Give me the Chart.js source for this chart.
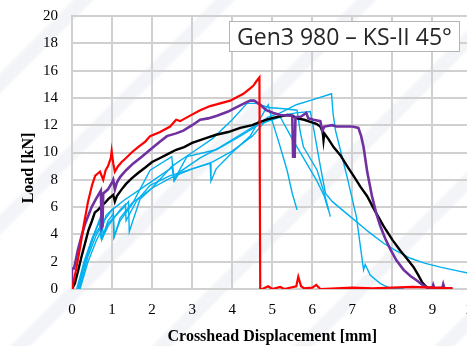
<!DOCTYPE html>
<html>
<head>
<meta charset="utf-8">
<script src="https://cdn.jsdelivr.net/npm/chart.js@4.4.1/dist/chart.umd.min.js"></script>
<style>
  html, body { margin: 0; padding: 0; overflow: hidden; background: #fff; width: 467px; height: 346px; }
  #wrap {
    position: relative; width: 467px; height: 346px; overflow: hidden;
    background: repeating-linear-gradient(135deg, rgba(255,255,255,0) 0px, rgba(255,255,255,0) 50px, #f2f4f7 54px, #f2f4f7 64px, rgba(255,255,255,0) 68px, rgba(255,255,255,0) 100px);
  }
  #loadChart { display: block; position: absolute; left: 0; top: 0; }
  #titleBox {
    position: absolute; left: 229px; top: 21px; width: 231px; height: 31px;
    border: 1.5px solid #b4b4b4; background: #fff; box-sizing: border-box;
    font-family: 'Open Sans', sans-serif; font-size: 23px; color: #262626;
    line-height: 28px; text-align: center; white-space: nowrap;
  }
</style>
</head>
<body>
<div id="wrap">
  <canvas id="loadChart" width="480" height="346"></canvas>
  <div id="titleBox">Gen3 980 – KS-II 45°</div>
</div>
<script>
// test curves (displacement in mm, load in kN)
const redX = [0, 0.1, 0.2, 0.3, 0.4, 0.5, 0.58, 0.66, 0.7, 0.78, 0.84, 0.9, 0.97, 0.99, 1.03, 1.07, 1.15, 1.24, 1.35, 1.49, 1.65, 1.83, 1.95, 2.2, 2.45, 2.6, 2.7, 2.95, 3.2, 3.45, 3.7, 3.95, 4.15, 4.28, 4.45, 4.53, 4.6, 4.68, 4.7, 4.75, 4.9, 5.0, 5.2, 5.3, 5.6, 5.65, 5.72, 5.8, 6.0, 6.1, 6.2, 6.6, 7.0, 7.5, 8.0, 8.5, 9.0, 9.5];
const redY = [0, 1.4, 3.0, 4.8, 6.4, 7.6, 8.3, 8.5, 8.6, 8.0, 8.7, 9.0, 9.6, 10.1, 9.2, 8.6, 9.0, 9.3, 9.6, 10.0, 10.4, 10.8, 11.2, 11.5, 11.9, 12.4, 12.3, 12.7, 13.1, 13.4, 13.6, 13.8, 14.1, 14.3, 14.7, 14.9, 15.2, 15.5, 0, 0, 0.2, 0, 0.15, 0, 0.2, 0.9, 0.2, 0.05, 0.1, 0.3, 0, 0.05, 0.1, 0.05, 0.1, 0.15, 0.1, 0.05];

const purpleX = [0, 0, 0.05, 0.15, 0.25, 0.33, 0.49, 0.6, 0.72, 0.74, 0.76, 0.78, 0.9, 1.0, 1.03, 1.07, 1.12, 1.2, 1.35, 1.53, 1.75, 1.95, 2.2, 2.37, 2.6, 2.78, 3.0, 3.2, 3.4, 3.62, 3.9, 4.1, 4.3, 4.45, 4.55, 4.7, 4.85, 5.03, 5.2, 5.5, 5.52, 5.56, 5.58, 5.7, 5.85, 5.9, 6.03, 6.2, 6.25, 6.3, 6.5, 6.6, 7.0, 7.15, 7.22, 7.28, 7.37, 7.49, 7.6, 7.7, 7.82, 7.95, 8.1, 8.28, 8.45, 8.62, 8.75, 8.87, 9.0, 9.02, 9.05, 9.25, 9.27, 9.3, 9.5];
const purpleY = [0, 1.5, 1.5, 2.9, 4.0, 4.8, 6.0, 6.6, 7.2, 4.5, 4.6, 7.0, 7.3, 7.8, 8.0, 7.3, 7.8, 8.2, 8.7, 9.2, 9.7, 10.2, 10.8, 11.2, 11.4, 11.6, 12.0, 12.4, 12.5, 12.7, 13.0, 13.3, 13.6, 13.8, 13.8, 13.5, 13.1, 12.9, 12.75, 12.7, 9.7, 9.7, 12.6, 12.6, 12.9, 12.5, 12.4, 12.3, 11.6, 11.9, 12.0, 11.9, 11.9, 11.8, 11.2, 10.4, 8.6, 6.8, 5.5, 4.6, 3.7, 2.9, 2.1, 1.4, 0.95, 0.6, 0.3, 0.1, 0.1, 0.3, 0.05, 0.1, 0.35, 0.05, 0.05];

const blackX = [0, 0.07, 0.15, 0.24, 0.33, 0.41, 0.5, 0.57, 0.65, 0.74, 0.82, 0.91, 1.03, 1.07, 1.12, 1.24, 1.35, 1.49, 1.65, 1.83, 2.0, 2.2, 2.4, 2.6, 2.8, 3.0, 3.2, 3.4, 3.6, 3.9, 4.2, 4.5, 4.7, 4.9, 5.12, 5.37, 5.5, 5.62, 5.8, 5.95, 6.1, 6.2, 6.26, 6.28, 6.3, 6.4, 6.53, 6.7, 6.87, 7.05, 7.2, 7.37, 7.55, 7.78, 8.0, 8.2, 8.37, 8.53, 8.65, 8.74, 8.8, 8.87, 9.0];
const blackY = [0, 0.4, 1.3, 2.4, 3.4, 4.3, 5.0, 5.6, 5.8, 6.1, 6.3, 6.6, 6.9, 6.4, 6.8, 7.3, 7.7, 8.1, 8.5, 8.9, 9.3, 9.6, 9.9, 10.2, 10.4, 10.7, 10.9, 11.1, 11.3, 11.5, 11.8, 12.0, 12.25, 12.45, 12.6, 12.75, 12.7, 12.5, 12.4, 12.25, 12.1, 11.9, 11.5, 10.9, 11.4, 11.0, 10.4, 9.8, 9.0, 8.2, 7.5, 6.8, 5.8, 4.6, 3.6, 2.8, 2.2, 1.6, 1.0, 0.5, 0.3, 0.1, 0.05];

const cyan1X = [0.12, 0.3, 0.5, 0.68, 0.72, 0.8, 1.0, 1.3, 1.7, 2.0, 2.5, 2.55, 2.7, 3.2, 3.7, 4.2, 4.7, 4.9, 5.2, 5.6, 6.0, 6.48, 6.52, 6.58, 6.7, 6.87, 7.1, 7.28, 7.32, 7.45, 7.7, 7.95, 8.3];
const cyan1Y = [0, 2.0, 3.7, 4.9, 3.9, 5.0, 5.8, 6.5, 7.3, 7.9, 8.9, 7.9, 8.6, 9.6, 10.4, 11.3, 12.2, 12.6, 12.9, 13.5, 13.85, 14.3, 12.8, 11.6, 10.2, 8.2, 5.3, 1.4, 1.8, 1.0, 0.4, 0.05, 0];

const cyan2X = [0.15, 0.35, 0.55, 0.75, 0.78, 0.9, 1.03, 1.05, 1.2, 1.5, 2.0, 2.5, 3.0, 3.45, 3.47, 3.6, 4.0, 4.45, 4.78, 4.9, 5.0, 5.2, 5.37, 5.5, 5.62];
const cyan2Y = [0, 2.2, 3.9, 4.8, 4.0, 5.0, 5.5, 3.8, 5.2, 6.3, 7.4, 8.2, 8.8, 9.2, 7.9, 8.8, 10.0, 11.2, 12.9, 13.5, 12.3, 10.4, 8.7, 7.0, 5.8];

const cyan3X = [0.18, 0.4, 0.6, 0.73, 0.75, 0.9, 1.3, 1.41, 1.43, 1.7, 2.0, 2.5, 3.0, 3.5, 4.0, 4.37, 4.6, 4.9, 5.3, 5.62, 5.7, 5.78, 6.12, 6.3, 6.45];
const cyan3Y = [0, 2.4, 3.9, 4.6, 3.7, 4.8, 6.0, 6.4, 4.2, 6.6, 7.4, 9.0, 10.0, 11.0, 12.4, 13.6, 13.6, 13.3, 13.2, 13.1, 11.5, 10.4, 8.7, 7.0, 5.3];

const cyan4X = [0.2, 0.4, 0.6, 0.72, 0.74, 0.9, 1.2, 1.33, 1.35, 1.6, 1.95, 2.45, 3.0, 3.5, 4.0, 4.5, 4.8, 5.2, 5.6, 5.95, 6.05, 6.2, 6.33, 6.5, 6.95, 7.4, 7.78, 8.1, 8.45, 8.8, 9.2, 9.6, 10];
const cyan4Y = [0, 2.0, 3.5, 4.2, 3.6, 4.6, 5.8, 6.2, 5.0, 6.4, 7.6, 8.3, 8.8, 9.3, 10.1, 11.2, 12.2, 12.7, 12.9, 13.0, 11.5, 9.0, 7.0, 6.4, 5.3, 4.2, 3.35, 2.8, 2.25, 1.9, 1.6, 1.35, 1.1];

const cyan5X = [0.15, 0.35, 0.55, 0.7, 0.72, 0.85, 1.03, 1.05, 1.2, 1.5, 1.95, 2.49, 2.55, 2.87, 3.6, 4.2, 4.7, 5.0, 5.2, 5.5, 5.8, 6.1, 6.3, 6.4];
const cyan5Y = [0, 2.3, 4.0, 5.2, 4.2, 5.4, 5.9, 3.8, 5.0, 6.2, 8.7, 9.7, 8.0, 9.7, 10.2, 11.2, 12.1, 12.4, 12.6, 11.0, 9.5, 8.0, 6.8, 5.8];

const xTicksMax = 10;
const yTicksMax = 20;

function makeSeries(xs, ys, color, width) {
    return {
        data: xs.map((x, i) => ({ x: x, y: ys[i] })),
        borderColor: color,
        borderWidth: width,
        showLine: true,
        pointRadius: 0,
        tension: 0,
        fill: false
    };
}

const cyan = '#00b0f0';
const datasets = [
    makeSeries(redX, redY, '#ff0000', 2.2),
    makeSeries(purpleX, purpleY, '#7030a0', 2.6),
    makeSeries(blackX, blackY, '#000000', 2.4),
    makeSeries(cyan1X, cyan1Y, cyan, 1.4),
    makeSeries(cyan2X, cyan2Y, cyan, 1.4),
    makeSeries(cyan3X, cyan3Y, cyan, 1.4),
    makeSeries(cyan4X, cyan4Y, cyan, 1.4),
    makeSeries(cyan5X, cyan5Y, cyan, 1.4)
];

// y title drawn by hand so it can sit a bit below the middle like the original
const yTitle = {
    id: 'yTitle',
    afterDraw(chart) {
        const ctx = chart.ctx;
        ctx.save();
        ctx.translate(29, 168);
        ctx.rotate(-Math.PI / 2);
        ctx.font = 'bold 16px "Liberation Serif"';
        ctx.fillStyle = '#000';
        ctx.textAlign = 'center';
        ctx.textBaseline = 'middle';
        ctx.fillText('Load [kN]', 0, 0);
        ctx.restore();
    }
};

// gaps between labels and axes come from invisible tick marks, tick padding would also pad the plot area
const ctx = document.getElementById('loadChart').getContext('2d');
new Chart(ctx, {
    type: 'scatter',
    data: { datasets: datasets },
    options: {
        responsive: false,
        animation: false,
        layout: { padding: { top: 16, left: 43, bottom: 1, right: 0 } },
        plugins: { legend: { display: false }, tooltip: { enabled: false } },
        scales: {
            x: {
                type: 'linear', min: 0, max: xTicksMax,
                ticks: { stepSize: 1, color: '#000', padding: 0, font: { family: 'Liberation Serif', size: 15, lineHeight: 1 } },
                grid: { color: '#d0d0d0', lineWidth: 2, drawTicks: true, tickLength: 14, tickColor: 'rgba(0,0,0,0)' },
                border: { color: '#d0d0d0', width: 2 },
                title: { display: true, text: 'Crosshead Displacement [mm]', color: '#000', padding: { top: 11, bottom: 0 }, font: { family: 'Liberation Serif', size: 16, weight: 'bold', lineHeight: 1 } }
            },
            y: {
                type: 'linear', min: 0, max: yTicksMax,
                ticks: { stepSize: 2, color: '#000', padding: 0, font: { family: 'Liberation Serif', size: 15 } },
                grid: { color: '#d0d0d0', lineWidth: 2, drawTicks: true, tickLength: 14, tickColor: 'rgba(0,0,0,0)' },
                border: { color: '#d0d0d0', width: 2 }
            }
        }
    },
    plugins: [yTitle]
});
</script>
</body>
</html>
